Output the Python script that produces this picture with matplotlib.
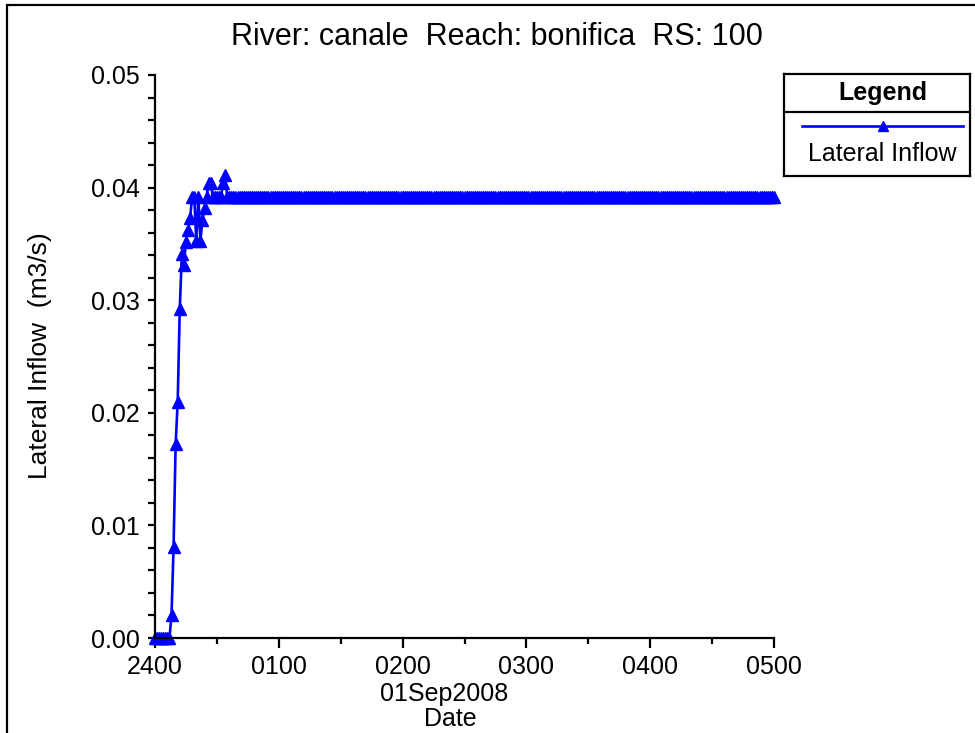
import numpy as np
import matplotlib
matplotlib.use("Agg")
import matplotlib.pyplot as plt
from matplotlib.ticker import MultipleLocator, FixedLocator, FormatStrFormatter
from matplotlib.patches import Rectangle

plt.rcParams['font.family'] = ['Liberation Sans', 'DejaVu Sans']

# lateral inflow hydrograph, 1-minute steps from 2400 (hours after midnight)
minutes = list(range(0, 301))
early_flow = [0.0, 0.0, 0.0, 0.0, 0.0, 0.0, 0.0, 0.0,
              0.0020, 0.0081, 0.0172, 0.0210, 0.0292, 0.0341, 0.0331,
              0.0352, 0.0362, 0.0373, 0.0392, 0.0392, 0.0353, 0.0392,
              0.0353, 0.0371, 0.0382, 0.0392, 0.0404, 0.0404, 0.0392,
              0.0392, 0.0392, 0.0392, 0.0392, 0.0404, 0.0411]
plateau = 0.0392
flow = early_flow + [plateau] * (len(minutes) - len(early_flow))

tick_hours = [0, 1, 2, 3, 4, 5]
tick_labels = ["2400", "0100", "0200", "0300", "0400", "0500"]

W, H = 975, 733
fig = plt.figure(figsize=(W / 100, H / 100), dpi=100)

# outer frame of the plot window
fig.patches.append(Rectangle((7 / W, -0.05), 1.1, 1 - 5 / H + 0.05,
                             transform=fig.transFigure, fill=False,
                             edgecolor='black', linewidth=1.6))

ax = fig.add_axes([155 / W, 1 - 638 / H, (774 - 155) / W, (638 - 75) / H])
hours = np.array(minutes) / 60.0
ax.plot(hours, flow, color='#0000FF', linewidth=1.9, marker='^',
        markersize=8, markeredgewidth=1, clip_on=False)

ax.set_xlim(0, 5)
ax.set_ylim(0, 0.05)
for s in ['top', 'right']:
    ax.spines[s].set_visible(False)
for s in ['left', 'bottom']:
    ax.spines[s].set_linewidth(1.6)

ax.xaxis.set_major_locator(FixedLocator(tick_hours))
ax.set_xticklabels(tick_labels)
ax.xaxis.set_minor_locator(MultipleLocator(0.5))
ax.yaxis.set_major_locator(MultipleLocator(0.01))
ax.yaxis.set_minor_locator(MultipleLocator(0.002))
ax.yaxis.set_major_formatter(FormatStrFormatter('%.2f'))
ax.tick_params(axis='x', which='major', direction='out', length=7, width=1.6,
               labelsize=18, pad=5)
ax.tick_params(axis='x', which='minor', direction='out', length=4.5, width=1.6)
ax.tick_params(axis='y', which='both', direction='out', length=5, width=1.6,
               labelsize=18, pad=6)

fig.text(497 / W, 1 - 37 / H, "River: canale  Reach: bonifica  RS: 100",
         ha='center', va='center', fontsize=22)
fig.text(40 / W, 1 - 356 / H, "Lateral Inflow  (m3/s)", rotation=90,
         ha='center', va='center', fontsize=19)
fig.text(444 / W, 1 - 694 / H, "01Sep2008", ha='center', va='center',
         fontsize=18)
fig.text(450 / W, 1 - 719 / H, "Date", ha='center', va='center', fontsize=18)

# legend box
lg = fig.add_axes([784 / W, 1 - 176 / H, (970 - 784) / W, (176 - 74) / H])
lg.set_xlim(0, 1)
lg.set_ylim(0, 1)
lg.set_xticks([])
lg.set_yticks([])
for s in lg.spines.values():
    s.set_linewidth(1.6)
lg.axhline(0.627, color='black', linewidth=1.6)
lg.text(0.53, 0.814, "Legend", ha='center', va='center', fontsize=18,
        fontweight='bold')
lg.plot([0.097, 0.962], [0.49, 0.49], color='#0000FF', linewidth=1.9)
lg.plot([0.532], [0.49], color='#0000FF', marker='^', markersize=7)
lg.text(0.53, 0.216, "Lateral Inflow", ha='center', va='center', fontsize=18)

fig.savefig("out.png", dpi=100)
